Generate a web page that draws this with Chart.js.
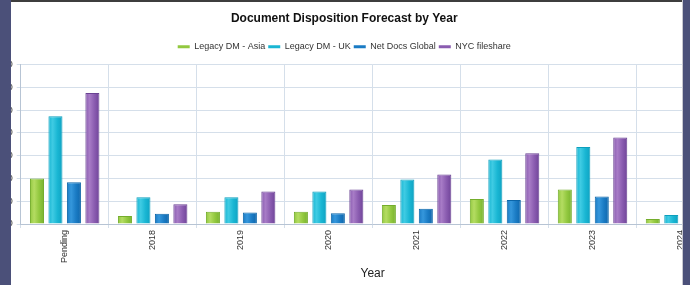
<!DOCTYPE html>
<html>
<head>
<meta charset="utf-8">
<script src="https://cdn.jsdelivr.net/npm/chart.js@4/dist/chart.umd.min.js"></script>
<style>
  html, body { margin: 0; padding: 0; background: #fff; }
  #wrap { position: relative; width: 690px; height: 285px; overflow: hidden; background: #fff; }
  #c { position: absolute; left: -36px; top: 0; }
  #bl { position: absolute; left: 0; top: 0; width: 11px; height: 285px; background: #4b5079; }
  #br { position: absolute; left: 682px; top: 0; width: 8px; height: 285px; background: #4b5079; border-left: 1px solid #c8c8d0; box-sizing: border-box; }
  #bt { position: absolute; left: 11px; top: 0; width: 671px; height: 2px; background: #3e3e3e; }
</style>
</head>
<body>
<div id="wrap">
  <canvas id="c" width="766" height="285" style="width:766px;height:285px"></canvas>
  <div id="bl"></div><div id="br"></div><div id="bt"></div>
</div>
<script>
const categories = ["Pending", "2018", "2019", "2020", "2021", "2022", "2023", "2024"];
const seriesNames = ["Legacy DM - Asia", "Legacy DM - UK", "Net Docs Global", "NYC fileshare"];
const legacyAsia  = [1000, 175, 270, 270, 415, 550, 760, 110];
const legacyUK    = [2365, 590, 585, 715, 975, 1415, 1690, 195];
const netDocs     = [915, 225, 255, 235, 335, 525, 605, 90];
const nycShare    = [2880, 435, 715, 760, 1085, 1555, 1900, 150];
const yTicks      = [0, 500, 1000, 1500, 2000, 2500, 3000, 3500];

// [border, light, mid, dark]
const shades = [
  ["#74ad2c", "#b4dc62", "#92c83f", "#78b22e"],
  ["#0d9fbd", "#3fcbe3", "#19b6d3", "#0fa2c2"],
  ["#0b65a8", "#3597dc", "#1a7bc4", "#0f66ab"],
  ["#6a4293", "#a77bc6", "#8a5cb0", "#704499"]
];
const values = [legacyAsia, legacyUK, netDocs, nycShare];

const barShade = {
  id: 'barShade',
  beforeDatasetsDraw(chart) {
    const ctx = chart.ctx;
    chart.data.datasets.forEach((ds, i) => {
      const meta = chart.getDatasetMeta(i);
      const s = shades[i];
      meta.data.forEach(el => {
        const half = el.width / 2;
        const g = ctx.createLinearGradient(el.x - half, 0, el.x + half, 0);
        g.addColorStop(0, s[2]);
        g.addColorStop(0.3, s[1]);
        g.addColorStop(0.65, s[2]);
        g.addColorStop(1, s[3]);
        el.options = Object.assign({}, el.options, { backgroundColor: g });
      });
    });
  }
};

const fontFam = 'Liberation Sans, Arial, sans-serif';

new Chart(document.getElementById('c'), {
  type: 'bar',
  data: {
    labels: categories,
    datasets: seriesNames.map((name, i) => ({
      label: name,
      data: values[i],
      backgroundColor: shades[i][2],
      borderColor: shades[i][0],
      borderWidth: 1,
      categoryPercentage: 0.84,
      barPercentage: 0.76
    }))
  },
  options: {
    responsive: false,
    animation: false,
    devicePixelRatio: 1,
    layout: { padding: { left: 0, right: 5.5, top: 0, bottom: 0 } },
    plugins: {
      title: {
        display: true,
        text: 'Document Disposition Forecast by Year',
        color: '#111',
        font: { family: fontFam, size: 12, weight: 'bold' },
        padding: { top: 11.8, bottom: 13 }
      },
      subtitle: {
        display: true,
        text: '',
        font: { family: fontFam, size: 1 },
        padding: { top: 0, bottom: 2.3 }
      },
      legend: {
        position: 'top',
        weight: 1800,
        labels: {
          color: '#333',
          font: { family: fontFam, size: 9 },
          boxWidth: 12,
          boxHeight: 3,
          padding: 3,
          generateLabels(chart) {
            return Chart.defaults.plugins.legend.labels.generateLabels(chart).map(l => ({ ...l, lineWidth: 0 }));
          }
        }
      },
      tooltip: { enabled: false }
    },
    scales: {
      x: {
        grid: { color: '#d5dfea', tickLength: 4, offset: true, drawTicks: true },
        border: { color: '#b7c4d4' },
        ticks: {
          color: '#333',
          font: { family: fontFam, size: 9 },
          minRotation: 90, maxRotation: 90, padding: 2, autoSkip: false
        },
        title: {
          display: true, text: 'Year', color: '#222',
          font: { family: fontFam, size: 12 },
          padding: { top: 4, bottom: 3.8 }
        },
        afterFit(scale) { scale.height = 61; }
      },
      y: {
        min: 0, max: 3500,
        afterBuildTicks(scale) { scale.ticks = yTicks.map(v => ({ value: v })); },
        grid: { color: '#d5dfea', tickLength: 4 },
        border: { color: '#b7c4d4' },
        ticks: {
          color: '#333',
          font: { family: fontFam, size: 9 },
          padding: 4
        },
        afterFit(scale) { scale.width = 56.7; }
      }
    }
  },
  plugins: [barShade]
});
</script>
</body>
</html>
